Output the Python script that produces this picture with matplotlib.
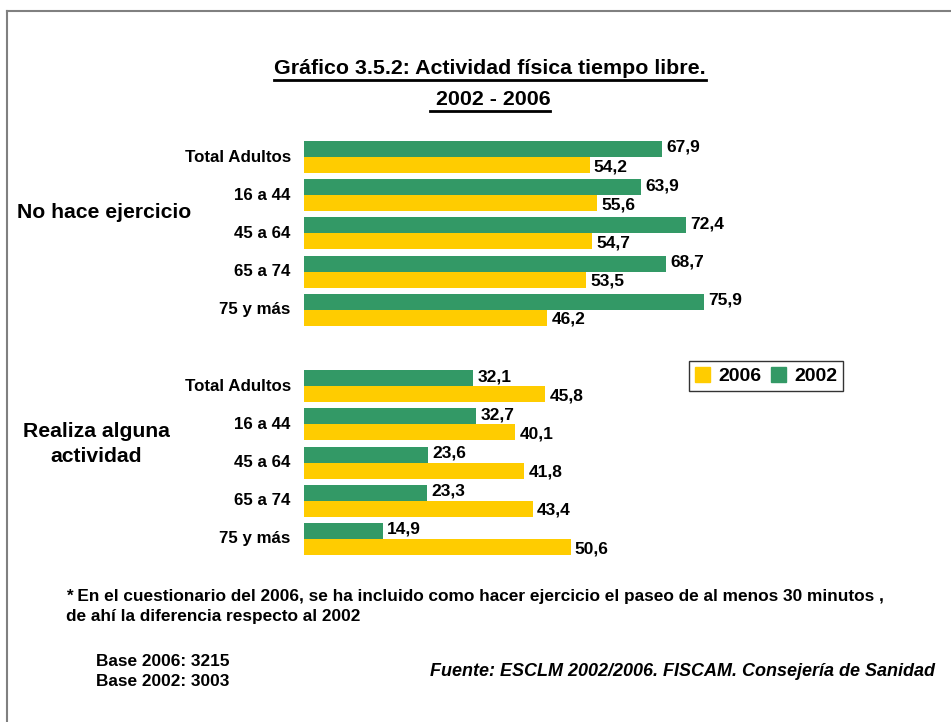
import numpy as np
import matplotlib.pyplot as plt
from matplotlib.lines import Line2D
from matplotlib.patches import Patch

plt.rcParams['font.family'] = ['Liberation Sans', 'DejaVu Sans']

# data
categorias = ['Total Adultos', '16 a 44', '45 a 64', '65 a 74', '75 y más']
no_hace_2002 = [67.9, 63.9, 72.4, 68.7, 75.9]
no_hace_2006 = [54.2, 55.6, 54.7, 53.5, 46.2]
realiza_2002 = [32.1, 32.7, 23.6, 23.3, 14.9]
realiza_2006 = [45.8, 40.1, 41.8, 43.4, 50.6]

verde = '#339966'
amarillo = '#FFCC00'

W, H = 951, 722
fig = plt.figure(figsize=(W / 100, H / 100), dpi=100)
fig.patch.set_facecolor('white')

# axes placed in pixel terms: x=0 at px 304, 5.27 px per unit
slot = 38.2
y0_px = 157
x0_px = 304
px_unit = 5.27
ax_left = x0_px / W
ax_width = 100 * px_unit / W
top_px = y0_px - 0.5 * slot
bot_px = y0_px + 10.5 * slot
ax = fig.add_axes([ax_left, 1 - bot_px / H, ax_width, (bot_px - top_px) / H])
ax.set_xlim(0, 100)
ax.set_ylim(10.5, -0.5)
ax.axis('off')

pos = np.array([0, 1, 2, 3, 4, 6, 7, 8, 9, 10])
v2002 = no_hace_2002 + realiza_2002
v2006 = no_hace_2006 + realiza_2006
h = 0.42

ax.barh(pos - h / 2, v2002, height=h, color=verde)
ax.barh(pos + h / 2, v2006, height=h, color=amarillo)

for p, a, b in zip(pos, v2002, v2006):
    ax.text(a + 0.8, p - h / 2 - 0.04, f'{a:.1f}'.replace('.', ','), va='center', ha='left',
            fontsize=12.5, fontweight='bold')
    ax.text(b + 0.8, p + h / 2 + 0.04, f'{b:.1f}'.replace('.', ','), va='center', ha='left',
            fontsize=12.5, fontweight='bold')

for p, c in zip(pos, categorias * 2):
    ax.text(-2.5, p, c, va='center', ha='right', fontsize=12.2, fontweight='bold')

# group labels
fig.text(17 / W, 1 - 212 / H, 'No hace ejercicio', ha='left', va='center',
         fontsize=15.2, fontweight='bold')
fig.text(96 / W, 1 - 444 / H, 'Realiza alguna\nactividad', ha='center', va='center',
         fontsize=15.2, fontweight='bold', linespacing=1.45)

# titles with underline
renderer = fig.canvas.get_renderer()
for txt, base_px in [('Gráfico 3.5.2: Actividad física tiempo libre.', 74), (' 2002 - 2006', 105)]:
    t = fig.text(490 / W, 1 - base_px / H, txt, ha='center', va='baseline',
                 fontsize=15.4, fontweight='bold')
    bb = t.get_window_extent(renderer=renderer)
    bb = bb.transformed(fig.transFigure.inverted())
    yl = 1 - (base_px + 6) / H
    fig.add_artist(Line2D([bb.x0, bb.x1], [yl, yl],
                          transform=fig.transFigure, color='black', lw=2))

# legend
handles = [Patch(color=amarillo, label='2006'), Patch(color=verde, label='2002')]
leg = fig.legend(handles=handles, ncol=2, loc='center',
                 bbox_to_anchor=(766 / W, 1 - 376 / H),
                 prop={'size': 14, 'weight': 'bold'}, frameon=True, fancybox=False,
                 handlelength=0.8, handleheight=0.8, handletextpad=0.4,
                 columnspacing=0.5, borderpad=0.3, edgecolor='black')
leg.get_frame().set_linewidth(1.0)

# notes
fig.text(66 / W, 1 - 597 / H,
         '* En el cuestionario del 2006, se ha incluido como hacer ejercicio el paseo de al menos 30 minutos ,',
         ha='left', va='center', fontsize=12.4, fontweight='bold')
fig.text(66 / W, 1 - 617 / H, 'de ahí la diferencia respecto al 2002',
         ha='left', va='center', fontsize=12.4, fontweight='bold')
fig.text(96 / W, 1 - 661 / H, 'Base 2006: 3215', ha='left', va='center',
         fontsize=12.4, fontweight='bold')
fig.text(96 / W, 1 - 681 / H, 'Base 2002: 3003', ha='left', va='center',
         fontsize=12.4, fontweight='bold')
fig.text(935 / W, 1 - 671 / H, 'Fuente: ESCLM 2002/2006. FISCAM. Consejería de Sanidad',
         ha='right', va='center', fontsize=13, fontweight='bold', style='italic')

# outer frame lines (top and left)
fig.add_artist(Line2D([7 / W, 1], [1 - 11 / H, 1 - 11 / H], transform=fig.transFigure,
                      color='#808080', lw=1.5))
fig.add_artist(Line2D([7 / W, 7 / W], [0, 1 - 11 / H], transform=fig.transFigure,
                      color='#808080', lw=1.5))

fig.savefig('out.png', dpi=100)
